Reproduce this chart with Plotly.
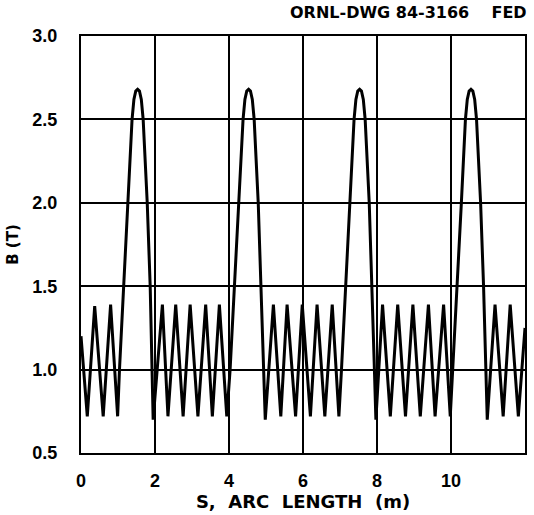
import plotly.graph_objects as go

# ---- data (s in m, B in T) ----
s_start = [0.00, 0.17, 0.37, 0.60, 0.80, 0.99]
b_start = [1.20, 0.72, 1.38, 0.72, 1.39, 0.72]

s_peak1 = [1.04, 1.15, 1.27, 1.38, 1.43, 1.48, 1.53, 1.58, 1.63, 1.68, 1.79, 1.87, 1.92, 1.95]
s_rip1 = [2.20, 2.35, 2.56, 2.76, 2.95, 3.16, 3.37, 3.55, 3.74, 3.94]
s_peak2 = [4.03, 4.15, 4.27, 4.38, 4.43, 4.48, 4.53, 4.58, 4.63, 4.68, 4.79, 4.87, 4.93, 4.98]
s_rip2 = [5.20, 5.40, 5.57, 5.80, 5.98, 6.20, 6.38, 6.59, 6.79, 6.97]
s_peak3 = [7.04, 7.15, 7.27, 7.38, 7.43, 7.48, 7.53, 7.58, 7.63, 7.68, 7.79, 7.87, 7.93, 7.97]
s_rip3 = [8.15, 8.36, 8.56, 8.77, 8.97, 9.17, 9.39, 9.57, 9.80, 9.98]
s_peak4 = [10.05, 10.16, 10.28, 10.39, 10.44, 10.49, 10.54, 10.59, 10.64, 10.69, 10.80, 10.88, 10.94, 10.98]
s_end = [11.19, 11.41, 11.60, 11.82, 12.00]

b_peak = [1.00, 1.50, 2.00, 2.50, 2.62, 2.67, 2.68, 2.67, 2.62, 2.50, 2.00, 1.50, 1.00, 0.70]
b_rip = [1.39, 0.72, 1.39, 0.72, 1.39, 0.72, 1.39, 0.72, 1.39, 0.72]
b_end = [1.39, 0.72, 1.39, 0.72, 1.25]

x_ticks = [0, 2, 4, 6, 8, 10, 12]
x_ticktext = ["0", "2", "4", "6", "8", "10", "12"]
y_ticks = [0.5, 1.0, 1.5, 2.0, 2.5, 3.0]
y_ticktext = ["0.5", "1.0", "1.5", "2.0", "2.5", "3.0"]

s_all = s_start + s_peak1 + s_rip1 + s_peak2 + s_rip2 + s_peak3 + s_rip3 + s_peak4 + s_end
b_all = b_start + b_peak + b_rip + b_peak + b_rip + b_peak + b_rip + b_peak + b_end

FONT = "Liberation Sans"
WIDE = "DejaVu Sans"

fig = go.Figure()
fig.add_trace(go.Scatter(x=s_all, y=b_all, mode="lines",
                         line=dict(color="black", width=3), showlegend=False,
                         hoverinfo="skip"))

fig.update_layout(
    width=534, height=515,
    margin=dict(l=81, r=7, t=36, b=60),
    paper_bgcolor="white", plot_bgcolor="white",
    font=dict(family=FONT, color="black", size=16),
    annotations=[
        dict(text="<b>ORNL-DWG 84-3166    FED</b>", xref="paper", yref="paper",
             x=1.0, y=1.0, xanchor="right", yanchor="bottom", yshift=12, xshift=4,
             showarrow=False, font=dict(family=WIDE, size=16, color="black")),
    ],
)
fig.update_xaxes(
    range=[0, 12], tickvals=x_ticks, ticktext=["<b>%s</b>" % t for t in x_ticktext],
    showgrid=True, gridcolor="black", gridwidth=2,
    showline=True, linecolor="black", linewidth=2, mirror=True,
    ticks="", ticklabelstandoff=10, zeroline=False,
    tickfont=dict(family=FONT, size=18),
    title=dict(text="<b>S,  ARC  LENGTH  (m)</b>", font=dict(family=WIDE, size=18), standoff=5),
)
fig.update_yaxes(
    range=[0.5, 3.0], tickvals=y_ticks, ticktext=["<b>%s</b>" % t for t in y_ticktext],
    showgrid=True, gridcolor="black", gridwidth=2,
    showline=True, linecolor="black", linewidth=2, mirror=True,
    ticks="", ticklabelstandoff=18, zeroline=False,
    tickfont=dict(family=FONT, size=18),
    title=dict(text="<b>B (T)</b>", font=dict(family=WIDE, size=15), standoff=10),
)

fig.write_html("out.html")
